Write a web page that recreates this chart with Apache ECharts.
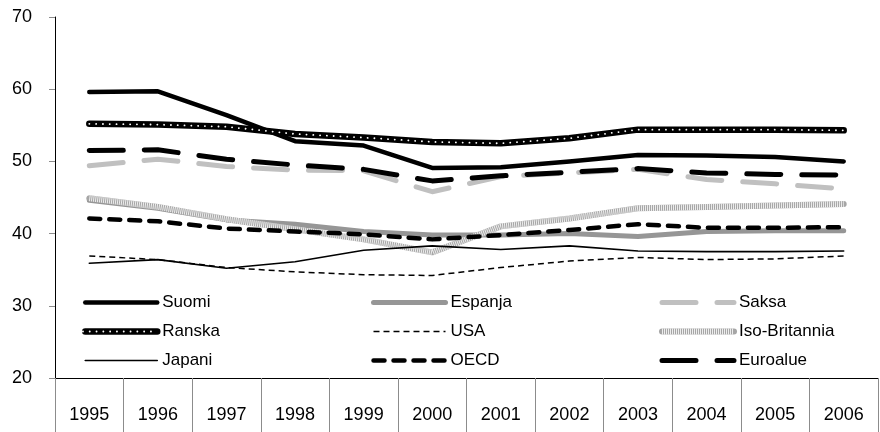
<!DOCTYPE html>
<html>
<head>
<meta charset="utf-8">
<script src="https://cdn.jsdelivr.net/npm/echarts@6/dist/echarts.min.js"></script>
<style>
html,body{margin:0;padding:0;background:#fff;}
#chart{width:880px;height:432px;}
</style>
</head>
<body>
<div id="chart"></div>
<script>
var years = ['1995','1996','1997','1998','1999','2000','2001','2002','2003','2004','2005','2006'];
var yTicks = [20, 30, 40, 50, 60, 70];

var suomi        = [59.6, 59.7, 56.4, 52.8, 52.2, 49.1, 49.2, 50.0, 50.9, 50.8, 50.6, 50.0];
var espanja      = [44.6, 43.5, 41.9, 41.3, 40.3, 39.8, 39.8, 40.0, 39.6, 40.3, 40.4, 40.4];
var saksa        = [49.4, 50.3, 49.3, 48.8, 48.7, 45.8, 47.9, 48.4, 48.9, 47.5, 46.9, 46.2];
var ranska       = [55.2, 55.1, 54.8, 53.8, 53.3, 52.7, 52.5, 53.2, 54.4, 54.4, 54.4, 54.3];
var usa          = [36.9, 36.4, 35.3, 34.7, 34.3, 34.2, 35.3, 36.2, 36.7, 36.4, 36.5, 36.9];
var isoBritannia = [44.9, 43.7, 42.0, 40.6, 39.2, 37.4, 41.0, 42.1, 43.5, 43.7, 43.9, 44.1];
var japani       = [35.9, 36.4, 35.2, 36.1, 37.7, 38.3, 37.8, 38.3, 37.6, 37.5, 37.5, 37.6];
var oecd         = [42.1, 41.7, 40.7, 40.3, 39.9, 39.2, 39.8, 40.5, 41.3, 40.8, 40.8, 40.9];
var euroalue     = [51.5, 51.6, 50.3, 49.5, 48.9, 47.3, 48.0, 48.5, 49.0, 48.4, 48.2, 48.1];

var FONT = 'Liberation Sans, Arial, sans-serif';

// line styles per series name
var styles = {
  'Espanja':       { color: '#969696', width: 5,   type: 'solid',  cap: 'round' },
  'Iso-Britannia': { color: '#a6a6a6', width: 6,   type: 'solid',  cap: 'round' },
  'IsoHatch':      { color: 'rgba(255,255,255,0.8)', width: 6, type: [1, 1], cap: 'butt' },
  'Saksa':         { color: '#c0c0c0', width: 5,   type: [34, 21], cap: 'round' },
  'Suomi':         { color: '#000000', width: 4.5, type: 'solid',  cap: 'round' },
  'Ranska':        { color: '#000000', width: 6.5, type: 'solid',  cap: 'round' },
  'RanskaDots':    { color: '#ffffff', width: 1.8, type: [0.1, 6.7], cap: 'round' },
  'USA':           { color: '#000000', width: 1.5, type: [6, 4],   cap: 'butt' },
  'Japani':        { color: '#000000', width: 1.6, type: 'solid',  cap: 'round' },
  'OECD':          { color: '#000000', width: 4.5, type: [11, 9],  cap: 'round' },
  'Euroalue':      { color: '#000000', width: 5,   type: [34, 21], cap: 'round' }
};

function line(name, data) {
  var st = styles[name];
  return {
    name: name, type: 'line', data: data, symbol: 'none', silent: true,
    lineStyle: { color: st.color, width: st.width, type: st.type, cap: st.cap, join: 'round' },
    itemStyle: { color: st.color }
  };
}

var series = [
  line('Espanja', espanja),
  line('Iso-Britannia', isoBritannia),
  line('IsoHatch', isoBritannia),
  line('Saksa', saksa),
  line('Suomi', suomi),
  line('Ranska', ranska),
  line('RanskaDots', ranska),
  line('USA', usa),
  line('Japani', japani),
  line('OECD', oecd),
  line('Euroalue', euroalue)
];

function legendItems(names) {
  return names.map(function (n) {
    var st = styles[n];
    return { name: n, lineStyle: { width: st.width, color: st.color, type: st.type, cap: st.cap } };
  });
}

var LEG_TOP = 294, LEG_GAP = 12, LEG_PITCH = 29;

function legend(left, top, names, hideText) {
  var l = {
    orient: 'vertical', left: left, top: top, padding: 0,
    itemWidth: 72, itemHeight: 14, itemGap: LEG_GAP,
    data: legendItems(names), selectedMode: false,
    itemStyle: { opacity: 0 },
    textStyle: { fontFamily: FONT, fontSize: 17, color: '#000' }
  };
  if (hideText) l.formatter = function () { return ' '; };
  return l;
}

var chart = echarts.init(document.getElementById('chart'), null, { renderer: 'canvas' });
chart.setOption({
  animation: false,
  backgroundColor: '#fff',
  grid: { left: 55, right: 2, top: 17, bottom: 54, containLabel: false },
  legend: [
    legend(82, LEG_TOP, ['Suomi', 'Ranska', 'Japani']),
    legend(371, LEG_TOP, ['Espanja', 'USA', 'OECD']),
    legend(659, LEG_TOP, ['Saksa', 'Iso-Britannia', 'Euroalue']),
    legend(82, LEG_TOP + LEG_PITCH, ['RanskaDots'], true),
    legend(659, LEG_TOP + LEG_PITCH, ['IsoHatch'], true)
  ],
  xAxis: {
    type: 'category', data: years, boundaryGap: true,
    axisLine: { lineStyle: { color: '#000', width: 1 } },
    axisTick: { show: true, interval: 0, length: 54, lineStyle: { color: '#8c8c8c', width: 1 } },
    axisLabel: { interval: 0, margin: 28, fontFamily: FONT, fontSize: 18, color: '#000' },
    splitLine: { show: false }
  },
  yAxis: {
    type: 'value', min: yTicks[0], max: yTicks[yTicks.length - 1], interval: 10,
    axisLine: { show: true, lineStyle: { color: '#000', width: 1 } },
    axisTick: { show: true, length: 6, lineStyle: { color: '#8c8c8c' } },
    axisLabel: { margin: 23, fontFamily: FONT, fontSize: 18, color: '#000' },
    splitLine: { show: false }
  },
  series: series
});
</script>
</body>
</html>
